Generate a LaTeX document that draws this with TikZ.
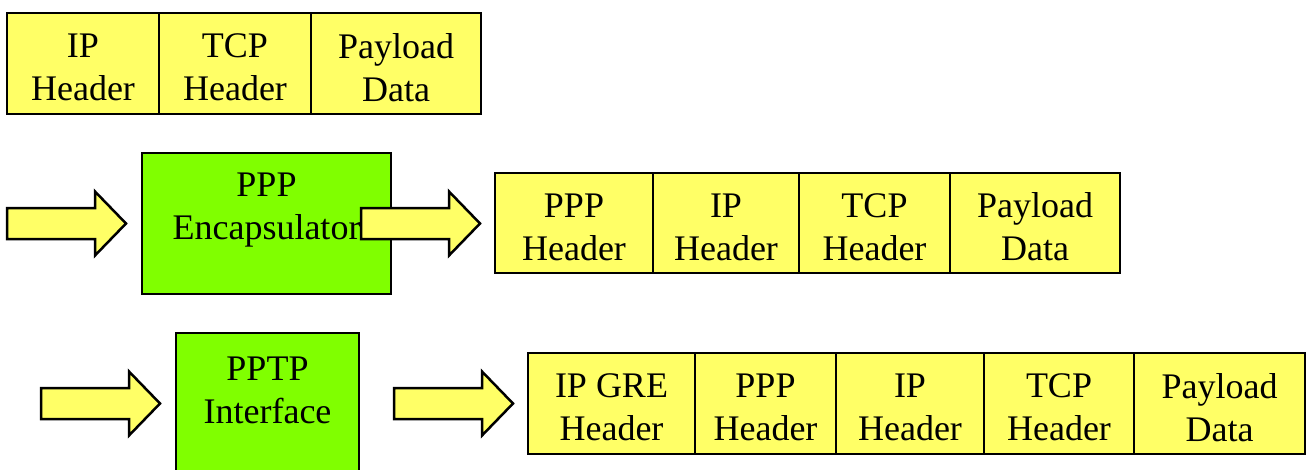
\documentclass[tikz,border=0pt]{standalone}
\usepackage{fontspec}
\setmainfont{Liberation Serif}
\definecolor{pktyellow}{HTML}{FFFF66}
\definecolor{procgreen}{HTML}{80FF00}
\tikzset{
  celltext/.style={align=center, inner sep=0pt, yshift=-4pt,
    font=\fontsize{36}{43}\selectfont},
  cell/.style={draw=black, line width=2.5pt, fill=pktyellow, minimum height=101pt,
    inner sep=0pt, outer sep=0pt, anchor=north west,
    label={[celltext]center:#1}},
  proc/.style={draw=black, line width=2.5pt, fill=procgreen, inner sep=0pt,
    outer sep=0pt, anchor=north west},
  proclabel/.style={align=center, inner sep=0pt, font=\fontsize{36}{43}\selectfont},
  blockarrow/.pic={
    \filldraw[draw=black, fill=pktyellow, line width=2.5pt, line join=miter]
      (0,-15.5) -- (88,-15.5) -- (88,-32) -- (119,0) -- (88,32) -- (88,15.5)
      -- (0,15.5) -- cycle;
  }
}
\begin{document}
\begin{tikzpicture}[x=1pt, y=-1pt]
\useasboundingbox (0,0) rectangle (1306,469);

% plain IP packet
\node[cell={IP\\Header},      minimum width=152pt] (ip1)  at (7,13) {};
\node[cell={TCP\\Header},     minimum width=152pt] (tcp1) at (ip1.north east) {};
\node[cell={Payload\\Data},   minimum width=170pt] (pay1) at (tcp1.north east) {};

% PPP encapsulation
\node[proc, minimum width=249pt, minimum height=141pt] (enc) at (142,153) {};
\node[proclabel] (enclabel) at ([yshift=-57pt]enc.north) {PPP\\Encapsulator};
\pic at (7,223.5) {blockarrow};
\pic at (361,223.5) {blockarrow};

\node[cell={PPP\\Header},     minimum width=158pt, minimum height=100pt] (ppp2) at (495,173) {};
\node[cell={IP\\Header},      minimum width=146pt, minimum height=100pt] (ip2)  at (ppp2.north east) {};
\node[cell={TCP\\Header},     minimum width=151pt, minimum height=100pt] (tcp2) at (ip2.north east) {};
\node[cell={Payload\\Data},   minimum width=170pt, minimum height=100pt] (pay2) at (tcp2.north east) {};

% PPTP interface
\node[proc, minimum width=183pt, minimum height=150pt] (pptp) at (176,333) {};
\node[proclabel] (pptplabel) at ([yshift=-57pt]pptp.north) {PPTP\\Interface};
\pic at (41,403.5) {blockarrow};
\pic at (394,403.5) {blockarrow};

\node[cell={IP GRE\\Header},  minimum width=167pt] (gre3) at (528,353) {};
\node[cell={PPP\\Header},     minimum width=141pt] (ppp3) at (gre3.north east) {};
\node[cell={IP\\Header},      minimum width=148pt] (ip3)  at (ppp3.north east) {};
\node[cell={TCP\\Header},     minimum width=150pt] (tcp3) at (ip3.north east) {};
\node[cell={Payload\\Data},   minimum width=171pt] (pay3) at (tcp3.north east) {};
\end{tikzpicture}
\end{document}
